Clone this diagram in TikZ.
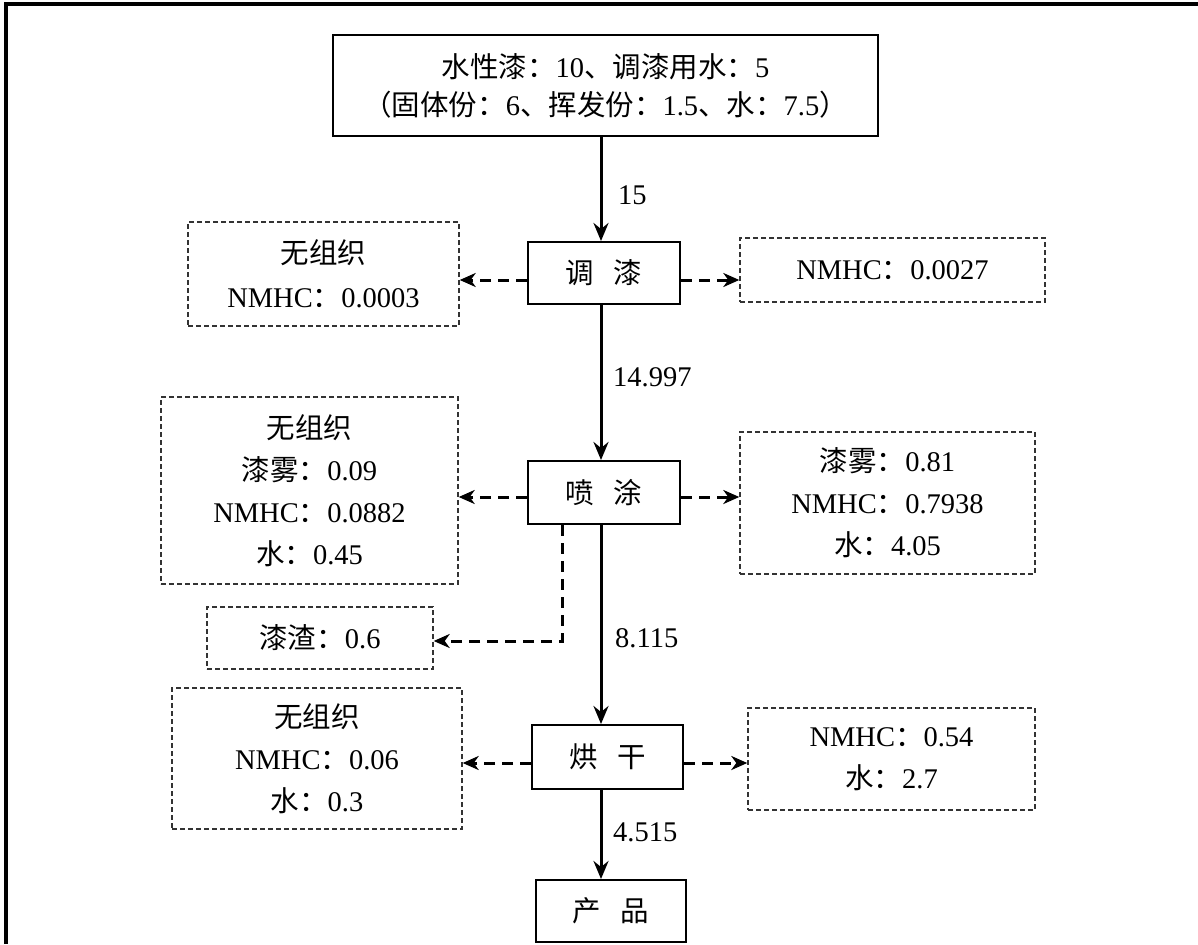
\documentclass[tikz,border=0pt]{standalone}
\usepackage{fontspec}
\setmainfont{Liberation Serif}
\newfontfamily\cjk{Noto Sans CJK SC}
\newcommand\zh[1]{{\cjk #1}}
\usetikzlibrary{arrows.meta}
\begin{document}
\begin{tikzpicture}[x=1pt,y=-1pt,
  txt/.style={font=\fontsize{28.5}{42}\selectfont, align=center, inner sep=0pt},
  solidbox/.style={txt, draw, line width=2pt, rectangle},
  dbox/.style={txt, draw=black!80, line width=1.4pt, dash pattern=on 5pt off 3pt, rectangle},
  mainarr/.style={line width=3pt, -{Stealth[length=18pt,width=15pt,inset=6pt]}},
  darr/.style={line width=3pt, dash pattern=on 11pt off 7pt, -{Stealth[length=16pt,width=14pt,inset=5pt]}},
  lbl/.style={font=\fontsize{28.5}{30}\selectfont, inner sep=0pt, anchor=west}]
\useasboundingbox (0,0) rectangle (1198,944);
\draw[line width=3.5pt] (6,944) -- (6,4) -- (1198,4);

\node[solidbox, minimum width=545, minimum height=101] (top) at (605.5,85.5)
  {\zh{水性漆：}10\zh{、调漆用水：}5\\[-4pt]\zh{（固体份：}6\zh{、挥发份：}1.5\zh{、水：}7.5\zh{）}};
\node[solidbox, minimum width=152, minimum height=62] (tj) at (604,273) {\zh{调\hspace{0.7em}漆}};
\node[solidbox, minimum width=152, minimum height=63] (pt) at (604,492.5) {\zh{喷\hspace{0.7em}涂}};
\node[solidbox, minimum width=151, minimum height=64] (hg) at (607.5,757) {\zh{烘\hspace{0.7em}干}};
\node[solidbox, minimum width=150, minimum height=62] (cp) at (611,911) {\zh{产\hspace{0.7em}品}};

\node[dbox, minimum width=271, minimum height=104] (l1) at (323.5,274)
  {\zh{无组织}\\[2pt]NMHC\zh{：}0.0003};
\node[dbox, minimum width=305, minimum height=64] (r1) at (892.5,270)
  {NMHC\zh{：}0.0027};
\node[dbox, minimum width=297, minimum height=187] (l2) at (309.5,490.5)
  {\zh{无组织}\\\zh{漆雾：}0.09\\NMHC\zh{：}0.0882\\\zh{水：}0.45};
\node[dbox, minimum width=295, minimum height=142] (r2) at (887.5,503)
  {\zh{漆雾：}0.81\\NMHC\zh{：}0.7938\\\zh{水：}4.05};
\node[dbox, minimum width=226, minimum height=62] (qz) at (320,638)
  {\zh{漆渣：}0.6};
\node[dbox, minimum width=290, minimum height=141] (l3) at (317,758.5)
  {\zh{无组织}\\NMHC\zh{：}0.06\\\zh{水：}0.3};
\node[dbox, minimum width=287, minimum height=102] (r3) at (891.5,759)
  {NMHC\zh{：}0.54\\\zh{水：}2.7};

\coordinate (ax) at (601,0);
\coordinate (sx) at (562,0);

\draw[mainarr] (top.south -| ax) -- (tj.north -| ax);
\draw[mainarr] (tj.south -| ax) -- (pt.north -| ax);
\draw[mainarr] (pt.south -| ax) -- (hg.north -| ax);
\draw[mainarr] (hg.south -| ax) -- (cp.north -| ax);

\node[lbl] (n1) at (618,195) {15};
\node[lbl] (n2) at (613,377) {14.997};
\node[lbl] (n3) at (615,638) {8.115};
\node[lbl] (n4) at (613,832) {4.515};

\draw[darr] ([yshift=-7pt]tj.west) -- ([yshift=-7pt]tj.west -| l1.east);
\draw[darr] ([yshift=-7pt]tj.east) -- ([yshift=-7pt]tj.east -| r1.west);
\draw[darr] ([yshift=-4.5pt]pt.west) -- ([yshift=-4.5pt]pt.west -| l2.east);
\draw[darr] ([yshift=-4.5pt]pt.east) -- ([yshift=-4.5pt]pt.east -| r2.west);
\draw[darr] ([yshift=-6pt]hg.west) -- ([yshift=-6pt]hg.west -| l3.east);
\draw[darr] ([yshift=-6pt]hg.east) -- ([yshift=-6pt]hg.east -| r3.west);
\draw[darr] (pt.south -| sx) |- ([yshift=-3pt]qz.east);
\end{tikzpicture}
\end{document}
